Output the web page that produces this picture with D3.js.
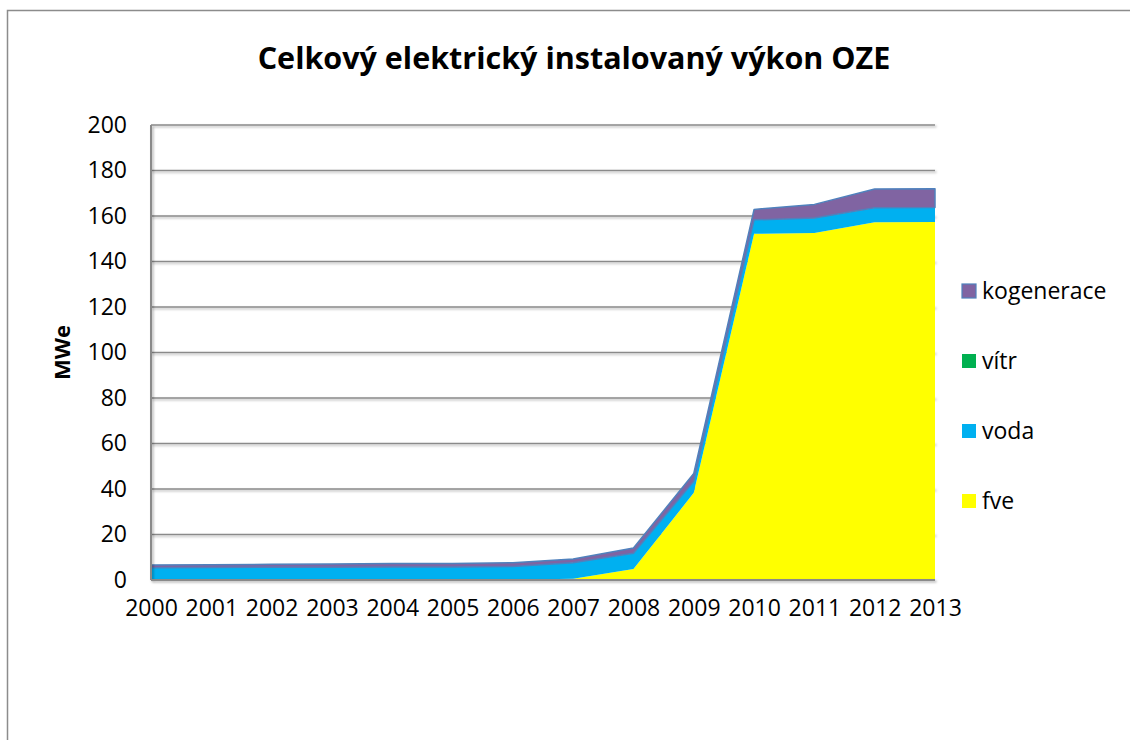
<!DOCTYPE html>
<html lang="cs">
<head>
<meta charset="utf-8">
<title>Celkový elektrický instalovaný výkon OZE</title>
<script src="https://cdn.jsdelivr.net/npm/d3@7"></script>
<style>
  body { margin: 0; background: #fff; }
  svg { display: block; font-family: "Open Sans", "Liberation Sans", sans-serif; }
</style>
</head>
<body>
<svg id="chart" width="1130" height="740"></svg>
<script>
// data (MWe)
var years = ["2000","2001","2002","2003","2004","2005","2006","2007","2008","2009","2010","2011","2012","2013"];
var fve        = [0, 0, 0, 0, 0, 0, 0.1, 0.6, 4.8, 38.3, 152.2, 152.5, 157.3, 157.4];
var voda       = [5.4, 5.5, 5.6, 5.6, 5.7, 5.7, 5.8, 7.0, 6.9, 5.0, 6.0, 6.5, 6.2, 6.2];
var vitr       = [0, 0, 0, 0, 0, 0, 0, 0, 0.05, 0.05, 0.1, 0.1, 0.1, 0.1];
var kogenerace = [1.2, 1.2, 1.3, 1.4, 1.5, 1.6, 1.7, 1.6, 2.3, 3.5, 4.6, 6.0, 8.3, 8.3];
var yTicks = [0, 20, 40, 60, 80, 100, 120, 140, 160, 180, 200];

var seriesKeys = ["fve", "voda", "vitr", "kogenerace"];
var labels = { fve: "fve", voda: "voda", vitr: "vítr", kogenerace: "kogenerace" };
var colors = { fve: "#FFFF00", voda: "#00B0F0", vitr: "#00B050", kogenerace: "#8064A2" };

var rows = years.map(function(y, i){
  return { year: y, fve: fve[i], voda: voda[i], vitr: vitr[i], kogenerace: kogenerace[i] };
});

var svg = d3.select("#chart");
var plot = { left: 151, right: 935, top: 125, bottom: 580 };

// outer chart frame (runs off the page at right/bottom like the original)
svg.append("rect")
  .attr("x", 7.5).attr("y", 10.5)
  .attr("width", 1200).attr("height", 800)
  .attr("fill", "none").attr("stroke", "#8c8c8c").attr("stroke-width", 1.5);

// soft shadow for grid/axis lines; userSpaceOnUse so flat lines keep a region
var defs = svg.append("defs");
var sh = defs.append("filter").attr("id", "shadow")
  .attr("filterUnits", "userSpaceOnUse")
  .attr("x", 0).attr("y", 0).attr("width", 1130).attr("height", 740);
sh.append("feDropShadow").attr("dx", 1.5).attr("dy", 1.5).attr("stdDeviation", 1)
  .attr("flood-color", "#000").attr("flood-opacity", 0.3);

var x = d3.scalePoint().domain(years).range([plot.left, plot.right]);
var y = d3.scaleLinear().domain([0, 200]).range([plot.bottom, plot.top]);

// gridlines
svg.append("g").selectAll("line")
  .data(yTicks.filter(function(t){ return t > 0; }))
  .enter().append("line")
  .attr("x1", plot.left).attr("x2", plot.right)
  .attr("y1", function(d){ return y(d); }).attr("y2", function(d){ return y(d); })
  .attr("stroke", "#8a8a8a").attr("stroke-width", 1.5)
  .attr("filter", "url(#shadow)");

// stacked areas
var stack = d3.stack().keys(seriesKeys);
var layers = stack(rows);

var area = d3.area()
  .x(function(d){ return x(d.data.year); })
  .y0(function(d){ return y(d[0]); })
  .y1(function(d){ return y(d[1]); });

svg.append("g").selectAll("path")
  .data(layers)
  .enter().append("path")
  .attr("d", area)
  .attr("fill", function(d){ return colors[d.key]; })
  .attr("stroke", function(d){ return d.key === "kogenerace" ? "#4F81BD" : "none"; })
  .attr("stroke-width", 1.5)
  .attr("stroke-linejoin", "round");

// axes lines
svg.append("line")
  .attr("x1", plot.left).attr("x2", plot.left)
  .attr("y1", plot.top).attr("y2", plot.bottom)
  .attr("stroke", "#8a8a8a").attr("stroke-width", 2)
  .attr("filter", "url(#shadow)");
svg.append("line")
  .attr("x1", plot.left).attr("x2", plot.right)
  .attr("y1", plot.bottom).attr("y2", plot.bottom)
  .attr("stroke", "#8a8a8a").attr("stroke-width", 2)
  .attr("filter", "url(#shadow)");

// y axis labels
var yAxis = d3.axisLeft(y).tickValues(yTicks).tickSize(0).tickPadding(24);
var gy = svg.append("g").attr("transform", "translate(" + plot.left + ",0)").call(yAxis);
gy.select(".domain").remove();
gy.selectAll("text").attr("font-size", 23).attr("fill", "#000")
  .attr("font-family", "Open Sans, sans-serif");

// x axis labels
var xAxis = d3.axisBottom(x).tickSize(0).tickPadding(20);
var gx = svg.append("g").attr("transform", "translate(0," + plot.bottom + ")").call(xAxis);
gx.select(".domain").remove();
gx.selectAll("text").attr("font-size", 23).attr("fill", "#000")
  .attr("font-family", "Open Sans, sans-serif");

// title
svg.append("text")
  .attr("x", 574).attr("y", 69)
  .attr("text-anchor", "middle")
  .attr("font-size", 30.5).attr("font-weight", "bold")
  .text("Celkový elektrický instalovaný výkon OZE");

// y axis title
svg.append("text")
  .attr("transform", "translate(70," + ((plot.top + plot.bottom) / 2) + ") rotate(-90)")
  .attr("text-anchor", "middle")
  .attr("font-size", 22).attr("font-weight", "bold")
  .text("MWe");

// legend (top entry is the top layer)
var legendKeys = seriesKeys.slice().reverse();
var leg = svg.append("g").selectAll("g")
  .data(legendKeys)
  .enter().append("g")
  .attr("transform", function(d, i){ return "translate(962," + (291 + i * 70) + ")"; });
leg.append("rect")
  .attr("x", 0).attr("y", -7).attr("width", 14).attr("height", 14)
  .attr("fill", function(d){ return colors[d]; })
  .attr("stroke", function(d){ return d === "kogenerace" ? "#4F81BD" : "none"; })
  .attr("stroke-width", 1.2);
leg.append("text")
  .attr("x", 20).attr("y", 0).attr("dy", "0.35em")
  .attr("font-size", 23)
  .text(function(d){ return labels[d]; });
</script>
</body>
</html>
